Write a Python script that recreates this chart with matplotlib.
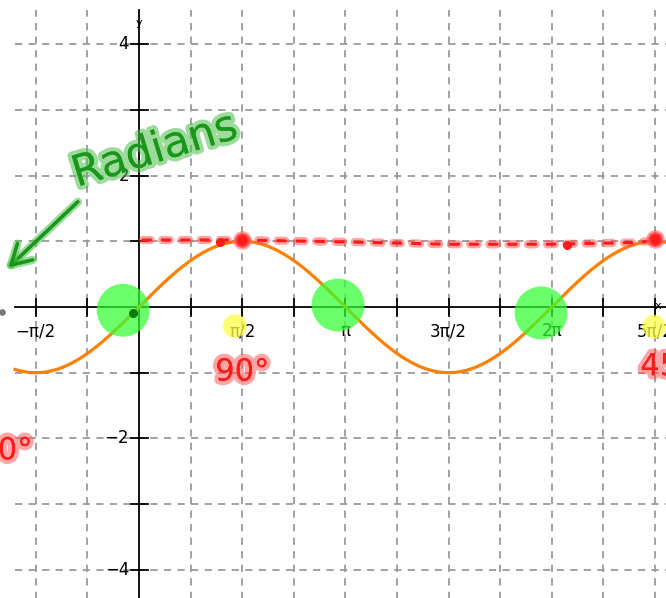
import numpy as np
import matplotlib
matplotlib.use("Agg")
import matplotlib.pyplot as plt
import matplotlib.patheffects as pe

# ---- data ----
PI = np.pi
x_tick_pos = [k * PI / 4 for k in range(-2, 11) if k != 0]
x_label_pos = [-PI / 2, PI / 2, PI, 3 * PI / 2, 2 * PI, 5 * PI / 2]
x_label_txt = ["\u2212\u03c0/2", "\u03c0/2", "\u03c0", "3\u03c0/2", "2\u03c0", "5\u03c0/2"]
y_tick_pos = [-4, -3, -2, -1, 1, 2, 3, 4]
y_label_pos = [4, 2, -2, -4]
y_label_txt = ["4", "2", "\u22122", "\u22124"]

curve_start, curve_end = -1.887, 8.05

zero_circle_x = [-0.24, 3.03, 6.12]
zero_circle_y = [-0.05, 0.03, -0.09]

hl_x = [1.46, 7.84]
hl_y = [-0.29, -0.30]

dotted_x = [0.06, 1.57, 3.2, 4.7, 6.2, 7.5, 7.85]
dotted_y = [1.02, 1.02, 0.99, 0.955, 0.955, 0.98, 1.01]
big_dot_x = [PI / 2, 5 * PI / 2]
big_dot_y = [1.02, 1.03]
small_dot_x = [1.23, 6.51]
small_dot_y = [0.99, 0.94]

# ---- figure ----
fig = plt.figure(figsize=(6.66, 5.98), dpi=100)
ax = fig.add_axes([0, 0, 1, 1])
ax.set_xlim(-139 / 65.7, 527 / 65.7)
ax.set_ylim(-291 / 65.7, 307 / 65.7)
ax.axis("off")

ytop = (307 - 10) / 65.7
xleft = (15 - 139) / 65.7
grid_kw = dict(color="#9a9a9a", lw=1.3, linestyle=(0, (4, 3.5)), zorder=1)
for xv in x_tick_pos:
    ax.plot([xv, xv], [-5, ytop], **grid_kw)
for yv in y_tick_pos:
    ax.plot([xleft, 9], [yv, yv], **grid_kw)

# axes
ax.plot([xleft, 9], [0, 0], color="black", lw=1.3, zorder=3)
ax.plot([0, 0], [-5, ytop], color="black", lw=1.3, zorder=3)
tk = 8.5 / 65.7
for xv in x_tick_pos:
    ax.plot([xv, xv], [-tk, tk], color="black", lw=1.3, zorder=3)
for yv in y_tick_pos:
    ax.plot([-tk, tk], [yv, yv], color="black", lw=1.3, zorder=3)

for xv, t in zip(x_label_pos, x_label_txt):
    ax.text(xv, -0.37, t, ha="center", va="center", fontsize=12, zorder=4)
for yv, t in zip(y_label_pos, y_label_txt):
    ax.text(-0.15, yv, t, ha="right", va="center", fontsize=12, zorder=4)
ax.text(0.0, (307 - 23) / 65.7, "y", ha="center", va="center", fontsize=8, zorder=4)
ax.text((658 - 139) / 65.7, 0.02, "x", ha="center", va="center", fontsize=8, zorder=4)
ax.scatter([-2.08], [-0.07], s=14, color="#777777", zorder=4)

# curve
xs = np.linspace(curve_start, curve_end, 600)
ax.plot(xs, np.sin(xs), color="#ff8000", lw=2.3, zorder=5)

# green zero circles
ax.scatter(zero_circle_x, zero_circle_y, s=1450, color="#33ff33", alpha=0.72,
           edgecolors="none", zorder=6)
ax.scatter([-0.09], [-0.09], s=30, color="#0a7a0a", zorder=7)

# yellow highlights
ax.scatter(hl_x, hl_y, s=290, color="#ffff44", alpha=0.75, edgecolors="none", zorder=6)

# red dotted line at y = 1
halo_r = [pe.withStroke(linewidth=6, foreground=(1, 0.3, 0.3, 0.5))]
ax.plot(dotted_x, dotted_y, color="#ff1a1a", lw=2.2, linestyle=(0, (2.5, 3.8)),
        path_effects=halo_r, zorder=7, dash_capstyle="round")
ax.scatter(big_dot_x, big_dot_y, s=110, color="#ff1a1a", zorder=8,
           edgecolors=(1, 0.4, 0.4, 0.6), linewidths=3)
ax.scatter(small_dot_x, small_dot_y, s=30, color="#ff1a1a", zorder=8)

# handwritten annotations
halo_g = [pe.withStroke(linewidth=6, foreground=(0.3, 0.75, 0.3, 0.55))]
ax.text(0.24, 2.38, "Radians", rotation=17, ha="center", va="center",
        fontsize=31, color="#1a961a", path_effects=halo_g, zorder=9)
ax.annotate("", xy=(-2.02, 0.57), xytext=(-0.90, 1.63),
            arrowprops=dict(arrowstyle="->,head_length=1.4,head_width=0.8",
                            color="#1a961a", lw=2.6, path_effects=halo_g), zorder=9)

ax.text(1.57, -0.99, "90\u00b0", ha="center", va="center", fontsize=22,
        color="#ff1a1a", path_effects=halo_r, zorder=9)
ax.text(-2.15, -2.19, "0\u00b0", ha="left", va="center", fontsize=22,
        color="#ff1a1a", path_effects=halo_r, zorder=9)
ax.text(7.63, -0.91, "450\u00b0", ha="left", va="center", fontsize=22,
        color="#ff1a1a", path_effects=halo_r, zorder=9)

fig.savefig("out.png", dpi=100)
